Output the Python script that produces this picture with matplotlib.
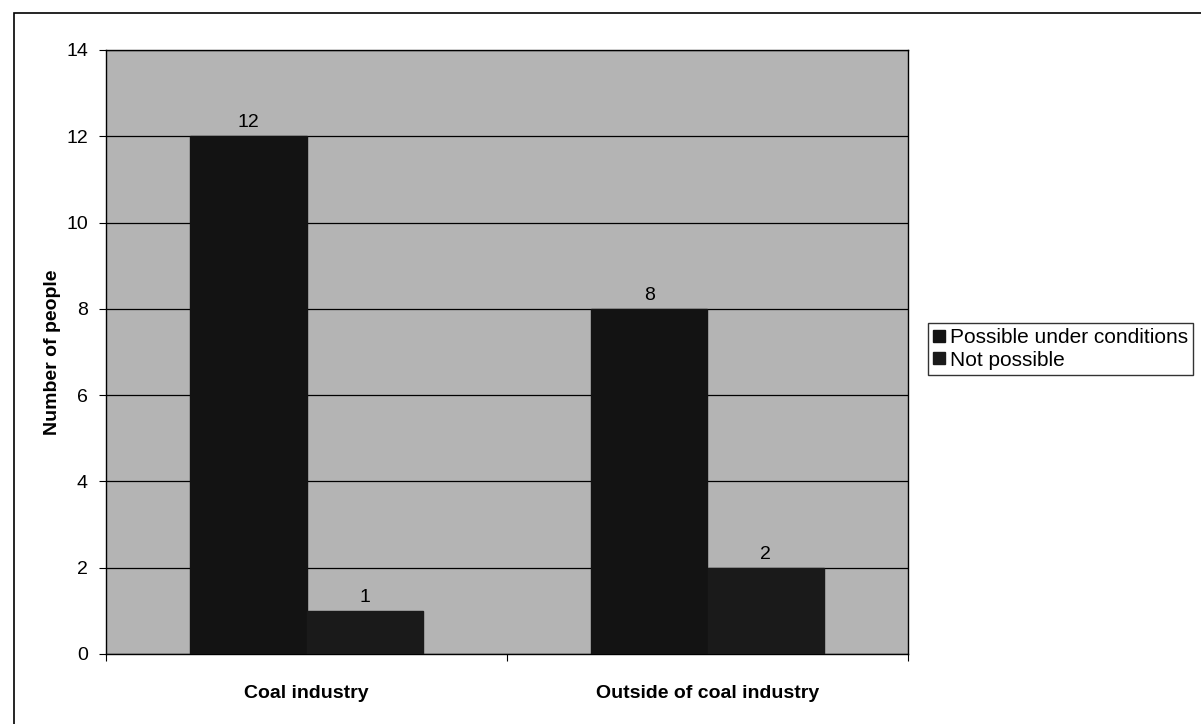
import matplotlib.pyplot as plt
import numpy as np
from matplotlib.patches import Rectangle

categories = ["Coal industry", "Outside of coal industry"]
series = ["Possible under conditions", "Not possible"]
possible = [12, 8]
not_possible = [1, 2]
yticks = [0, 2, 4, 6, 8, 10, 12, 14]

plt.rcParams.update({
    "font.family": "Liberation Sans",
    "font.size": 14,
})

fig = plt.figure(figsize=(12.01, 7.24), dpi=100)
ax = fig.add_axes([106 / 1201, 1 - 654 / 724, (908 - 106) / 1201, (654 - 50) / 724])

# outer chart border
fig.patches.append(Rectangle((14 / 1201, -0.01), 1.0, 1 - 13 / 724 + 0.01,
                             transform=fig.transFigure, fill=False,
                             edgecolor="black", linewidth=1.2))

ax.set_facecolor("#b4b4b4")
x = np.arange(len(categories))
w = 0.29
bars1 = ax.bar(x - w / 2, possible, w, color="#131313", edgecolor="#131313",
               label=series[0], zorder=3)
bars2 = ax.bar(x + w / 2, not_possible, w, color="#1a1a1a", edgecolor="#1a1a1a",
               label=series[1], zorder=3)

for bars, vals in ((bars1, possible), (bars2, not_possible)):
    for b, v in zip(bars, vals):
        ax.text(b.get_x() + b.get_width() / 2, v + 0.12, str(v),
                ha="center", va="bottom", fontsize=14, zorder=4)

ax.set_xlim(-0.5, 1.5)
ax.set_ylim(0, 14)
ax.set_yticks(yticks)
ax.yaxis.grid(True, color="black", linewidth=0.9)
ax.set_axisbelow(True)
ax.set_xticks([-0.5, 0.5, 1.5])
ax.set_xticklabels([])
ax.set_xticks(x, minor=True)
ax.set_xticklabels(categories, minor=True, fontweight="bold", fontsize=14)
ax.tick_params(axis="x", which="minor", length=0, pad=22)
ax.tick_params(axis="x", which="major", length=5, direction="out")
ax.tick_params(axis="y", length=5, direction="out", labelsize=14, pad=8)
for s in ax.spines.values():
    s.set_color("black")
    s.set_linewidth(1.0)

ax.set_ylabel("Number of people", fontweight="bold", fontsize=14, labelpad=4)

leg = ax.legend(loc="center left", bbox_to_anchor=(1.025, 0.505), frameon=True,
                fancybox=False, edgecolor="black", fontsize=15,
                handlelength=0.55, handleheight=0.55, handletextpad=0.25,
                borderpad=0.25, labelspacing=0.15, borderaxespad=0)
leg.get_frame().set_linewidth(1.0)

fig.savefig("out.png", dpi=100)
